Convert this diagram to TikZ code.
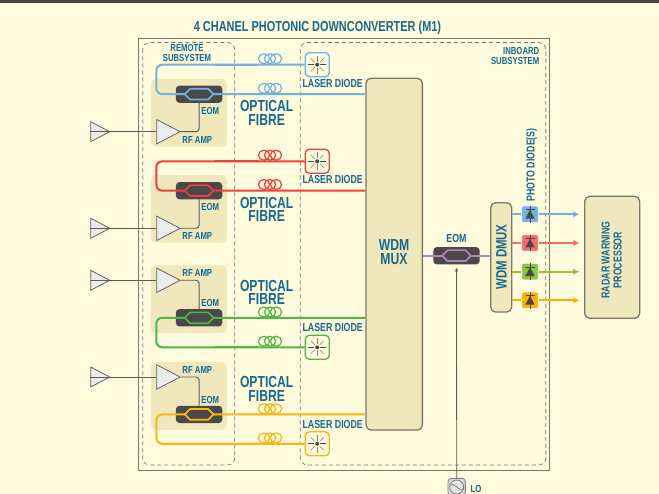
\documentclass[tikz,border=0pt]{standalone}
\usepackage{fontspec}
\setmainfont[FakeStretch=0.76]{Liberation Sans}
\usetikzlibrary{positioning, shapes.geometric, arrows.meta}
\definecolor{paper}{HTML}{FFFBDC}
\definecolor{tanblock}{HTML}{F0E8BC}
\definecolor{inkblue}{HTML}{17688F}
\definecolor{darkbar}{HTML}{4A4848}
\definecolor{framegray}{HTML}{7A7870}
\definecolor{fibreblue}{HTML}{6FB3E3}
\definecolor{fibrered}{HTML}{EF3F3F}
\definecolor{fibregreen}{HTML}{4DB848}
\definecolor{fibreyellow}{HTML}{FDB515}
\definecolor{fibrepurple}{HTML}{B684B8}
\definecolor{pdred}{HTML}{F56C6C}
\definecolor{pdgreen}{HTML}{8CC63F}
\definecolor{pdyellow}{HTML}{FFB000}
\tikzset{
  bigtext/.style={font=\fontsize{16}{13.4}\selectfont\bfseries\color{inkblue}, align=center, inner sep=0pt},
  midtext/.style={font=\fontsize{11.6}{12}\selectfont\bfseries\color{inkblue}, align=center, inner sep=0pt},
  smalltext/.style={font=\fontsize{10.2}{10}\selectfont\bfseries\color{inkblue}, align=center, inner sep=0pt}
}
\tikzset{
  tanbox/.style={fill=tanblock, rounded corners=5pt, minimum width=75.7pt, minimum height=67.7pt, inner sep=0pt},
  eombox/.style={fill=darkbar, rounded corners=3.5pt, minimum width=46.4pt, minimum height=17.2pt, inner sep=0pt},
  laserbox/.style={fill=paper, line width=1.3pt, rounded corners=4pt, minimum width=24pt, minimum height=24pt, inner sep=0pt},
  ampshape/.style={draw=darkbar!85, fill=gray!15, line width=0.8pt, isosceles triangle, isosceles triangle stretches, inner sep=0pt, anchor=lower side},
  rfamp/.style={ampshape, minimum width=24.4pt, minimum height=23.4pt},
  antenna/.style={ampshape, minimum width=20pt, minimum height=19pt},
  blockbox/.style={draw=framegray, fill=tanblock, line width=1.3pt, rounded corners=5pt, inner sep=0pt},
  pdbox/.style={draw=white!70!paper, line width=0.7pt, rounded corners=2pt, minimum width=16.6pt, minimum height=16.6pt, inner sep=0pt},
  dashframe/.style={draw=framegray, dashed, dash pattern=on 4pt off 3pt, line width=0.7pt, rounded corners=7pt},
  fibre/.style={line width=2pt, rounded corners=6pt},
  pdline/.style={line width=1.7pt},
  pdarrow/.style={line width=1.7pt, -{Latex[length=6pt,width=6.5pt]}, shorten >=4.7pt},
  rfline/.style={draw=darkbar!90, line width=0.9pt, rounded corners=3pt}
}
\tikzset{
  pics/coil/.style={code={
    \draw[#1, line width=1.2pt] (-6,0) ellipse (5.6 and 5);
    \draw[#1, line width=1.2pt] (0,0) ellipse (5.6 and 5);
    \draw[#1, line width=1.2pt] (6,0) ellipse (5.6 and 5);
  }},
  pics/modulator/.style={code={
    \draw[#1, fill=darkbar, line width=1.7pt] (-14.4,0) -- (-9,-5.4) -- (9,-5.4) -- (14.4,0) -- (9,5.4) -- (-9,5.4) -- cycle;
  }},
  pics/star/.style={code={
    \draw[darkbar, line width=0.7pt] (-9,0) -- (-3,0) (3,0) -- (9,0);
    \draw[gray, line width=1.2pt] (0,-9) -- (0,-3) (0,3) -- (0,9);
    \draw[gray, line width=0.5pt] (-6.5,-6.5) -- (-2.5,-2.5) (6.5,-6.5) -- (2.5,-2.5) (-6.5,6.5) -- (-2.5,2.5) (6.5,6.5) -- (2.5,2.5);
    \fill[darkbar] (0,0) circle (2pt);
  }},
  pics/diode/.style={code={
    \draw[darkbar, line width=0.5pt] (0,-8.3) -- (0,8.3);
    \draw[darkbar, line width=0.7pt] (-4.5,-4.6) -- (4.5,-4.6);
    \fill[darkbar] (0,-4.6) -- (4.6,4.4) -- (-4.6,4.4) -- cycle;
  }},
  pics/losource/.style={code={
    \draw[gray, fill=white!80!gray, line width=0.8pt] (0,0) circle (7pt);
    \draw[gray, line width=0.8pt] (-7,-2) .. controls (-2,-6) and (2,6) .. (7,2);
  }}
}

\begin{document}
\begin{tikzpicture}[x=1pt, y=-1pt]
  \useasboundingbox (0,0) rectangle (659,494);
  \clip (0,0) rectangle (659,494);
  \fill[paper] (0,0) rectangle (659,494);
  \fill[darkbar] (0,0) rectangle (659,3.5);
  \node[bigtext, font=\fontsize{14.4}{14}\selectfont\bfseries\color{inkblue}] (title) at (317.5,27.5) {4 CHANEL PHOTONIC DOWNCONVERTER (M1)};

  % frames
  \draw[framegray, line width=1pt] (138.5,38.5) rectangle (549.5,470);
  \draw[dashframe] (142.7,42.5) rectangle (234.7,465);
  \draw[dashframe] (300.3,42.5) rectangle (545.7,465);
  \node[smalltext] (remote) at (187,53) {REMOTE\\SUBSYSTEM};
  \node[smalltext, align=right, anchor=east] (inboard) at (539.5,56) {INBOARD\\SUBSYSTEM};

  % remote blocks, top to bottom
  \node[tanbox] (block1) at (188.9,112.9) {};
  \node[tanbox] (block2) at (188.9,208.9) {};
  \node[tanbox] (block3) at (188.9,299.2) {};
  \node[tanbox] (block4) at (188.9,395.9) {};
  \node[eombox] (eom1) at (199.1,94.2) {};
  \node[eombox] (eom2) at (199.1,190.7) {};
  \node[eombox] (eom3) at (199.1,317.8) {};
  \node[eombox] (eom4) at (199.1,414.4) {};
  \node[rfamp] (amp1) at (156.3,131.7) {};
  \node[rfamp] (amp2) at (156.3,228.3) {};
  \node[rfamp] (amp3) at (156.3,280.3) {};
  \node[rfamp] (amp4) at (156.3,377) {};
  \node[antenna] (ant1) at (90.3,131.7) {};
  \node[antenna] (ant2) at (90.3,228.3) {};
  \node[antenna] (ant3) at (90.3,280.3) {};
  \node[antenna] (ant4) at (90.3,377) {};
  \draw[rfline] (ant1.lower side) -- (amp1.lower side);
  \draw[rfline] (ant2.lower side) -- (amp2.lower side);
  \draw[rfline] (ant3.lower side) -- (amp3.lower side);
  \draw[rfline] (ant4.lower side) -- (amp4.lower side);
  \draw[rfline] (amp1.apex) -| (eom1.south);
  \draw[rfline] (amp2.apex) -| (eom2.south);
  \draw[rfline] (amp3.apex) -| (eom3.north);
  \draw[rfline] (amp4.apex) -| (eom4.north);
  \node[smalltext] (eomtext1) at (210.3,110.5) {EOM};
  \node[smalltext] (eomtext2) at (210.3,206.8) {EOM};
  \node[smalltext] (eomtext3) at (210.3,303.4) {EOM};
  \node[smalltext] (eomtext4) at (210.3,400.4) {EOM};
  \node[smalltext] (amptext1) at (197.3,140.4) {RF AMP};
  \node[smalltext] (amptext2) at (197.3,236.2) {RF AMP};
  \node[smalltext] (amptext3) at (197.3,273.4) {RF AMP};
  \node[smalltext] (amptext4) at (197.3,370.2) {RF AMP};

  % mux and lasers
  \node[blockbox, minimum width=56.3pt, minimum height=351.7pt] (mux) at (394.2,254.2) {};
  \node[bigtext] (muxtext) at (394,252) {WDM\\MUX};
  \node[laserbox, draw=fibreblue] (laser1) at (317.2,64.7) {};
  \node[laserbox, draw=fibrered] (laser2) at (317.2,161.3) {};
  \node[laserbox, draw=fibregreen] (laser3) at (317.2,347.3) {};
  \node[laserbox, draw=fibreyellow] (laser4) at (317.2,443.8) {};
  \pic at (laser1.center) {star};
  \pic at (laser2.center) {star};
  \pic at (laser3.center) {star};
  \pic at (laser4.center) {star};
  \node[midtext] (lasertext1) at (332.7,83.5) {LASER DIODE};
  \node[midtext] (lasertext2) at (332.7,180) {LASER DIODE};
  \node[midtext] (lasertext3) at (332.7,327.8) {LASER DIODE};
  \node[midtext] (lasertext4) at (332.7,424.8) {LASER DIODE};

  % fibres turn back at this x, upper runs are heavier up to the coil
  \coordinate (turn) at (156.3,0);
  \coordinate (heavya) at (215,0);
  \coordinate (heavyb) at (258,0);
  \draw[fibre, fibreblue] (laser1.west) -- (turn |- laser1) -- (turn |- eom1) -- (mux.west |- eom1);
  \draw[fibre, fibrered] (laser2.west) -- (turn |- laser2) -- (turn |- eom2) -- (mux.west |- eom2);
  \draw[fibre, fibregreen] (laser3.west) -- (turn |- laser3) -- (turn |- eom3) -- (mux.west |- eom3);
  \draw[fibre, fibreyellow] (laser4.west) -- (turn |- laser4) -- (turn |- eom4) -- (mux.west |- eom4);
  \draw[fibreblue, line width=2.3pt] (heavya |- laser1) -- (heavyb |- laser1);
  \draw[fibrered, line width=2.3pt] (heavya |- laser2) -- (heavyb |- laser2);
  \draw[fibregreen, line width=2.3pt] (heavya |- laser3) -- (heavyb |- laser3);
  \draw[fibreyellow, line width=2.3pt] (heavya |- laser4) -- (heavyb |- laser4);
  \pic at (eom1.center) {modulator=fibreblue};
  \pic at (eom2.center) {modulator=fibrered};
  \pic at (eom3.center) {modulator=fibregreen};
  \pic at (eom4.center) {modulator=fibreyellow};
  \pic at (270,58.7) {coil=fibreblue};
  \pic at (270,88.3) {coil=fibreblue};
  \pic at (270,155.2) {coil=fibrered};
  \pic at (270,184.5) {coil=fibrered};
  \pic at (270,312) {coil=fibregreen};
  \pic at (270,341.3) {coil=fibregreen};
  \pic at (270,408.7) {coil=fibreyellow};
  \pic at (270,438) {coil=fibreyellow};
  \node[bigtext] (fibretext1) at (266.7,113) {OPTICAL\\FIBRE};
  \node[bigtext] (fibretext2) at (266.7,209.5) {OPTICAL\\FIBRE};
  \node[bigtext] (fibretext3) at (266.7,292.3) {OPTICAL\\FIBRE};
  \node[bigtext] (fibretext4) at (266.7,389) {OPTICAL\\FIBRE};

  % downconverter side
  \node[eombox] (eomlo) at (456.5,255.7) {};
  \node[blockbox, minimum width=21pt, minimum height=109.3pt] (dmux) at (501.2,257.4) {};
  \node[midtext, font=\fontsize{15}{14}\selectfont\bfseries\color{inkblue}, rotate=90] (dmuxtext) at (501.5,257) {WDM DMUX};
  \draw[fibrepurple, line width=2pt] (mux.east |- eomlo) -- (eomlo.center) -- (dmux.west |- eomlo);
  \pic at (eomlo.center) {modulator=fibrepurple};
  \node[midtext] (eomlotext) at (456.5,238.7) {EOM};
  \node[draw=gray, fill=gray!30, line width=0.8pt, rounded corners=3pt, minimum width=17.3pt, minimum height=17.3pt, inner sep=0pt] (lo) at (456.7,487) {};
  \pic at (lo.center) {losource};
  \node[smalltext] (lotext) at (476,489) {LO};
  \draw[darkbar!90, line width=0.8pt, -{Stealth[length=4pt,width=3.5pt]}, shorten >=3.4pt] (lo.north) -- (eomlo.south);

  \node[pdbox, fill=fibreblue] (pd1) at (530,214.3) {};
  \node[pdbox, fill=pdred] (pd2) at (530,243) {};
  \node[pdbox, fill=pdgreen] (pd3) at (530,271.7) {};
  \node[pdbox, fill=pdyellow] (pd4) at (530,300.3) {};
  \pic at (pd1.center) {diode};
  \pic at (pd2.center) {diode};
  \pic at (pd3.center) {diode};
  \pic at (pd4.center) {diode};
  \node[midtext, rotate=90] (pdtext) at (531.7,165) {PHOTO DIODE(S)};
  \node[blockbox, minimum width=55pt, minimum height=122pt] (radar) at (612.2,257.3) {};
  \node[midtext, rotate=90] (radartext) at (611.6,260) {RADAR WARNING\\PROCESSOR};
  \draw[pdline, fibreblue] (dmux.east |- pd1) -- (pd1.west);
  \draw[pdline, pdred] (dmux.east |- pd2) -- (pd2.west);
  \draw[pdline, pdgreen] (dmux.east |- pd3) -- (pd3.west);
  \draw[pdline, pdyellow] (dmux.east |- pd4) -- (pd4.west);
  \draw[pdarrow, fibreblue] (pd1.east) -- (radar.west |- pd1);
  \draw[pdarrow, pdred] (pd2.east) -- (radar.west |- pd2);
  \draw[pdarrow, pdgreen] (pd3.east) -- (radar.west |- pd3);
  \draw[pdarrow, pdyellow] (pd4.east) -- (radar.west |- pd4);
\end{tikzpicture}
\end{document}
